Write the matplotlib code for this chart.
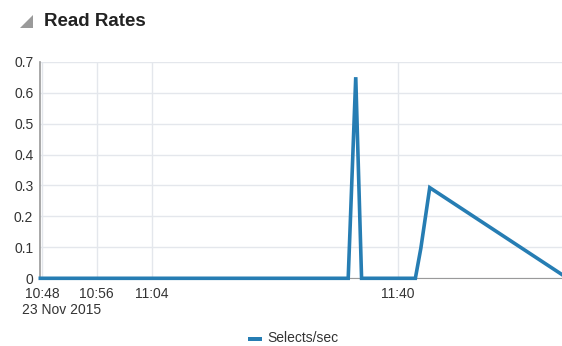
import matplotlib
matplotlib.use("Agg")
import matplotlib.pyplot as plt
import pandas as pd

plt.rcParams['font.family'] = ['Liberation Sans', 'DejaVu Sans']

# ---- data ----
times = ["10:47:46", "11:32:42", "11:33:48", "11:34:39", "11:42:30",
         "11:43:18", "11:44:36", "12:03:54"]
selects_per_sec = [0, 0, 0.65, 0, 0, 0.097, 0.293, 0.012]
tick_times = ["10:48", "10:56", "11:04", "11:40"]
tick_labels = ["10:48", "10:56", "11:04", "11:40"]
date_label = "23 Nov 2015"
y_ticks = [0, 0.1, 0.2, 0.3, 0.4, 0.5, 0.6, 0.7]
y_tick_labels = ["0", "0.1", "0.2", "0.3", "0.4", "0.5", "0.6", "0.7"]
title = "Read Rates"
series_name = "Selects/sec"

day = "2015-11-23 "
x = pd.to_datetime([day + t for t in times])
xt = pd.to_datetime([day + t for t in tick_times])

W, H = 562, 346
fig = plt.figure(figsize=(W / 100, H / 100), dpi=100)
ax = fig.add_axes([40.3 / W, 1 - 278.3 / H, (W - 40.3) / W, (278.3 - 61.7) / H])

blue = "#267db3"
ax.plot(x, selects_per_sec, color=blue, lw=2.6, solid_joinstyle='miter', zorder=3,
        clip_on=False)

ax.set_xlim(x[0], x[-1])
ax.set_ylim(0, 0.7)
ax.set_xticks(xt)
ax.set_xticklabels(tick_labels)
ax.set_yticks(y_ticks)
ax.set_yticklabels(y_tick_labels)
ax.tick_params(axis='both', length=0, labelsize=10, colors="#333333")
ax.tick_params(axis='y', pad=5)
ax.tick_params(axis='x', pad=6)

ax.grid(True, color="#e4e7ec", lw=1)
ax.set_axisbelow(True)
for s in ['top', 'right']:
    ax.spines[s].set_visible(False)
ax.spines['left'].set_color("#9a9a9a")
ax.spines['bottom'].set_color("#9a9a9a")
ax.spines['left'].set_linewidth(1.2)

fig.text(22 / W, 1 - 310 / H, date_label, fontsize=10, color="#333333",
         ha='left', va='center')

# title with triangle icon
fig.patches.append(plt.Polygon([[20 / W, 1 - 28 / H], [33 / W, 1 - 28 / H], [33 / W, 1 - 15 / H]],
                               closed=True, transform=fig.transFigure,
                               facecolor="#9a9a9a", edgecolor='none'))
fig.text(44 / W, 1 - 22 / H, title, fontsize=13.5, fontweight='bold', color="#222222",
         ha='left', va='center')

# legend
fig.patches.append(plt.Rectangle((248 / W, 1 - 341 / H), 14 / W, 4 / H,
                                 transform=fig.transFigure, facecolor=blue, edgecolor='none'))
fig.text(267 / W, 1 - 338.5 / H, series_name, fontsize=10, color="#333333",
         ha='left', va='center')

fig.savefig("out.png", dpi=100)
